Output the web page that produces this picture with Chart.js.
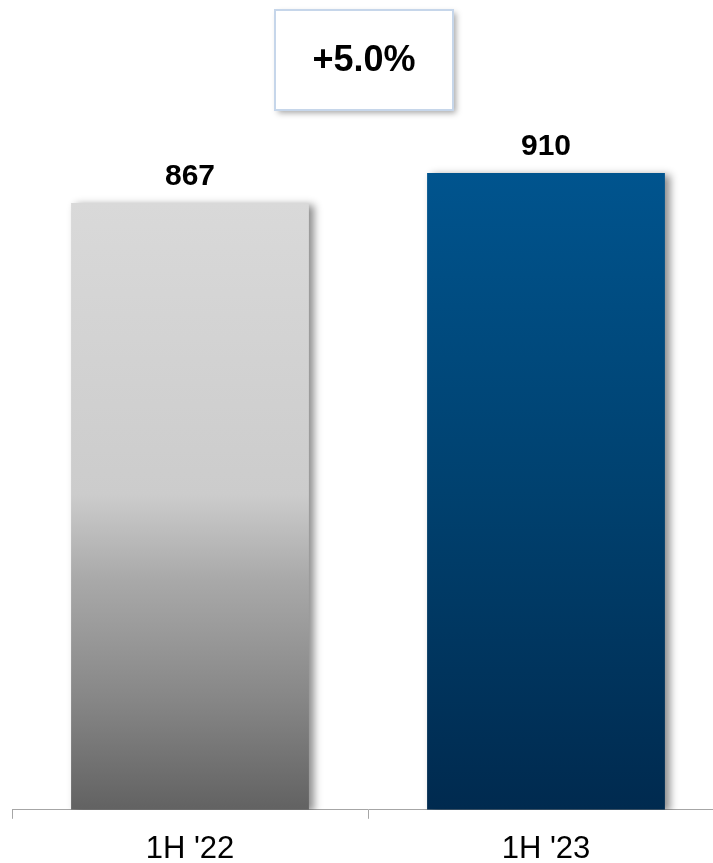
<!DOCTYPE html>
<html>
<head>
<meta charset="utf-8">
<title>1H revenue</title>
<script src="https://cdn.jsdelivr.net/npm/chart.js@4.4.1/dist/chart.umd.min.js"></script>
<style>
    html, body { margin: 0; padding: 0; background: #fff; overflow: hidden; }
    #wrap { position: relative; width: 730px; height: 883px; }
</style>
</head>
<body>
<div id="wrap"><canvas id="halfChart"></canvas></div>
<script>
    // Half-year figures
    const periods = ["1H '22", "1H '23"];
    const values = [867, 910];

    // Gradient stops per bar (top -> bottom)
    const barStops = [
        [[0, '#d9d9d9'], [0.48, '#cccccc'], [0.62, '#a9a9a9'], [0.82, '#868686'], [1, '#626262']],
        [[0, '#00548e'], [0.5, '#00416f'], [1, '#002a4f']]
    ];

    function growthText() {
        const pct = (values[1] / values[0] - 1) * 100;
        return (pct >= 0 ? '+' : '') + pct.toFixed(1) + '%';
    }

    function barFill(ctx) {
        const chart = ctx.chart;
        const area = chart.chartArea;
        if (!area || ctx.type !== 'data') return '#999';
        const yScale = chart.scales.y;
        const top = yScale.getPixelForValue(values[ctx.dataIndex]);
        const g = chart.ctx.createLinearGradient(0, top, 0, area.bottom);
        barStops[ctx.dataIndex].forEach(s => g.addColorStop(s[0], s[1]));
        return g;
    }

    // Soft drop shadow to the right of each bar
    const barShadow = {
        id: 'barShadow',
        beforeDatasetDraw(chart) {
            const c = chart.ctx;
            c.save();
            c.shadowColor = 'rgba(0,0,0,0.45)';
            c.shadowBlur = 8;
            c.shadowOffsetX = 5;
            c.shadowOffsetY = 2;
        },
        afterDatasetDraw(chart) {
            chart.ctx.restore();
        }
    };

    // Value labels above the bars and the growth box
    const annotations = {
        id: 'annotations',
        afterDatasetsDraw(chart) {
            const c = chart.ctx;
            const meta = chart.getDatasetMeta(0);
            c.save();
            c.fillStyle = '#000';
            c.textAlign = 'center';
            c.textBaseline = 'alphabetic';
            c.font = 'bold 30px "Liberation Sans", Arial, sans-serif';
            meta.data.forEach((bar, i) => {
                c.fillText(String(values[i]), bar.x, bar.y - 18);
            });

            // growth box
            const bx = 275, by = 10, bw = 178, bh = 100;
            c.save();
            c.shadowColor = 'rgba(0,0,0,0.35)';
            c.shadowBlur = 6;
            c.shadowOffsetX = 3;
            c.shadowOffsetY = 3;
            c.fillStyle = '#fff';
            c.fillRect(bx, by, bw, bh);
            c.restore();
            c.strokeStyle = '#c6d6ea';
            c.lineWidth = 2;
            c.strokeRect(bx, by, bw, bh);
            c.fillStyle = '#000';
            c.font = 'bold 36px "Liberation Sans", Arial, sans-serif';
            c.textBaseline = 'middle';
            c.fillText(growthText(), bx + bw / 2, by + bh / 2 + 1);
            c.restore();
        }
    };

    new Chart(document.getElementById('halfChart').getContext('2d'), {
        type: 'bar',
        data: {
            labels: periods,
            datasets: [{
                data: values,
                backgroundColor: barFill,
                borderWidth: 0,
                barPercentage: 0.668,
                categoryPercentage: 1
            }]
        },
        options: {
            responsive: true, maintainAspectRatio: false,
            animation: false,
            layout: { padding: { left: 12, right: 6, top: 5, bottom: 3 } },
            plugins: {
                legend: { display: false },
                tooltip: { enabled: false }
            },
            scales: {
                x: {
                    grid: {
                        display: true, drawOnChartArea: false, drawTicks: true,
                        tickLength: 9, color: '#a6a6a6', lineWidth: 1
                    },
                    border: { display: true, color: '#a6a6a6', width: 1 },
                    ticks: {
                        color: '#000', padding: 12,
                        font: { family: '"Liberation Sans", Arial, sans-serif', size: 31 }
                    }
                },
                y: { display: false, min: 0, max: 1150 }
            }
        },
        plugins: [barShadow, annotations]
    });
</script>
</body>
</html>
